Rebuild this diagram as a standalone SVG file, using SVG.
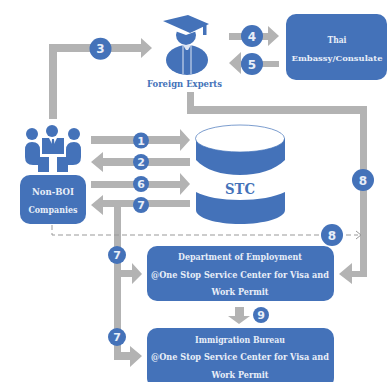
<svg xmlns="http://www.w3.org/2000/svg" width="387" height="382" viewBox="0 0 387 382">
<style>
.a{fill:#b3b3b3}
.b{fill:#4472b9}
.w{fill:#fff}
.t{font-family:"DejaVu Serif","Liberation Serif",serif;font-weight:700;text-anchor:middle;font-size:9px;fill:#e8eef8}
.s{font-size:8px}
.n{font-family:"DejaVu Sans","Liberation Sans",sans-serif;font-weight:700;text-anchor:middle;fill:#e8eef8;font-size:11px}
.l{font-size:12px}
</style>
<rect width="387" height="382" fill="#fff"/>
<g id="connectors">
<path class="a" d="M49 119V44H141V38L152 48 141 58V52H57V119Z"/>
<path class="a" d="M229 33H268V26L279 36 268 46V40H229Z"/>
<path class="a" d="M279 61H241V52L229 63 241 74V67H279Z"/>
<path class="a" d="M187 92H194V106H367V277H352V284L339 274 352 263V271H360V114H187Z"/>
<path class="a" d="M91 136H180V129L190 140 180 151V144H91Z"/>
<path class="a" d="M190 158H103V152L91 162 103 172V166H190Z"/>
<path class="a" d="M91 181H180V173L190 184 180 195V188H91Z"/>
<path class="a" d="M190 200H103V195L91 205 103 215V207H190Z"/>
<path class="a" d="M114 207H121V270H132V263L142 274 132 284V277H121V352H130V346L142 356 130 367V360H114Z"/>
<path class="a" d="M235 307H244V316H250L239 324 228 316H235Z"/>
<path d="M52 225V235H358" fill="none" stroke="#999" stroke-width="1" stroke-dasharray="5 3"/>
<path d="M356 231L361 235 356 239" fill="none" stroke="#999" stroke-width="1"/>
</g>
<g id="num-3"><circle class="b" cx="100.500" cy="48.700" r="11"/><text class="n l" x="100.500" y="53">3</text></g>
<g id="num-4"><circle class="b" cx="252" cy="36" r="11"/><text class="n l" x="252" y="40.500">4</text></g>
<g id="num-5"><circle class="b" cx="252" cy="64" r="11"/><text class="n l" x="252" y="68.500">5</text></g>
<g id="num-1"><circle class="b" cx="141" cy="140.500" r="8"/><text class="n" x="141" y="144.500">1</text></g>
<g id="num-2"><circle class="b" cx="141" cy="162" r="8"/><text class="n" x="141" y="166">2</text></g>
<g id="num-6"><circle class="b" cx="141" cy="184" r="8"/><text class="n" x="141" y="188">6</text></g>
<g id="num-7a"><circle class="b" cx="141" cy="205" r="8"/><text class="n" x="141" y="209">7</text></g>
<g id="num-7b"><circle class="b" cx="117" cy="255" r="9"/><text class="n" x="117" y="259">7</text></g>
<g id="num-7c"><circle class="b" cx="117" cy="337" r="9"/><text class="n" x="117" y="341">7</text></g>
<g id="num-8a"><circle class="b" cx="363" cy="180" r="11"/><text class="n l" x="363" y="184.500">8</text></g>
<g id="num-8b"><circle class="b" cx="332" cy="235" r="11"/><text class="n l" x="332" y="239.500">8</text></g>
<g id="num-9"><circle class="b" cx="261" cy="315" r="8"/><text class="n" x="261" y="319">9</text></g>
<g id="foreign-experts">
<circle class="b" cx="186" cy="35" r="10"/>
<path d="M175 26H197V31L186 35 175 31Z" fill="#fff"/>
<path class="b" d="M163 21L188 15 209 24 190 33Z"/>
<rect class="b" x="203" y="24" width="3.500" height="11"/>
<ellipse class="b" cx="187" cy="60" rx="21" ry="15"/>
<path d="M183 45V74M191 45V74" stroke="#dfe7f4" stroke-width="1" fill="none"/>
<path d="M183 45H191L188 50H186Z" fill="#dfe7f4"/>
<text class="t" x="184.500" y="87" style="fill:#4472b9" textLength="75" lengthAdjust="spacingAndGlyphs">Foreign Experts</text>
</g>
<g id="embassy">
<rect class="b" x="286" y="14" width="101" height="66" rx="10"/>
<text class="t" x="337" y="42.500" textLength="19" lengthAdjust="spacingAndGlyphs">Thai</text>
<text class="t s" x="337" y="61" textLength="91" lengthAdjust="spacingAndGlyphs">Embassy/Consulate</text>
</g>
<g id="non-boi">
<circle class="b" cx="32" cy="134" r="6"/><circle class="b" cx="52" cy="131" r="6"/><circle class="b" cx="74" cy="134" r="6"/>
<rect class="b" x="42" y="138" width="22" height="16"/>
<path d="M49 138L53 146 57 138Z" fill="#fff"/>
<path class="b" d="M52 139H54L54.500 145 53 147 51.500 145Z"/>
<path class="b" d="M25 150Q25 142 32 142 40 142 40 150V157H49V172H38V165H33Q25 165 25 157Z"/>
<path class="b" d="M81 150Q81 142 74 142 66 142 66 150V157H57V172H68V165H73Q81 165 81 157Z"/>
<rect class="b" x="20" y="175" width="66" height="49" rx="10"/>
<text class="t" x="53" y="195" textLength="42" lengthAdjust="spacingAndGlyphs">Non-BOI</text>
<text class="t" x="53" y="213" textLength="49" lengthAdjust="spacingAndGlyphs">Companies</text>
</g>
<g id="stc">
<path class="b" d="M196 138V210C196 218 216 224 240 224S285 218 285 210V138Z"/>
<path class="w" d="M196 160C205 170 222 175 240 175S275 170 285 160V192C275 197 258 200 240 200S205 197 196 192Z"/>
<ellipse class="w" cx="240" cy="138.500" rx="44.500" ry="13.500" stroke="#4472b9" stroke-width=".7"/>
<text class="t" x="240" y="193.500" style="fill:#4472b9;font-size:15px" textLength="30" lengthAdjust="spacingAndGlyphs">STC</text>
</g>
<g id="dept">
<rect class="b" x="147" y="246" width="187" height="55" rx="10"/>
<text class="t" x="240" y="260" textLength="124" lengthAdjust="spacingAndGlyphs">Department of Employment</text>
<text class="t" x="240" y="278" textLength="178" lengthAdjust="spacingAndGlyphs">@One Stop Service Center for Visa and</text>
<text class="t" x="240" y="295" textLength="57" lengthAdjust="spacingAndGlyphs">Work Permit</text>
</g>
<g id="immigration">
<rect class="b" x="147" y="328" width="187" height="60" rx="10"/>
<text class="t" x="240" y="343" textLength="90" lengthAdjust="spacingAndGlyphs">Immigration Bureau</text>
<text class="t" x="240" y="360" textLength="178" lengthAdjust="spacingAndGlyphs">@One Stop Service Center for Visa and</text>
<text class="t" x="240" y="378" textLength="57" lengthAdjust="spacingAndGlyphs">Work Permit</text>
</g>
</svg>
